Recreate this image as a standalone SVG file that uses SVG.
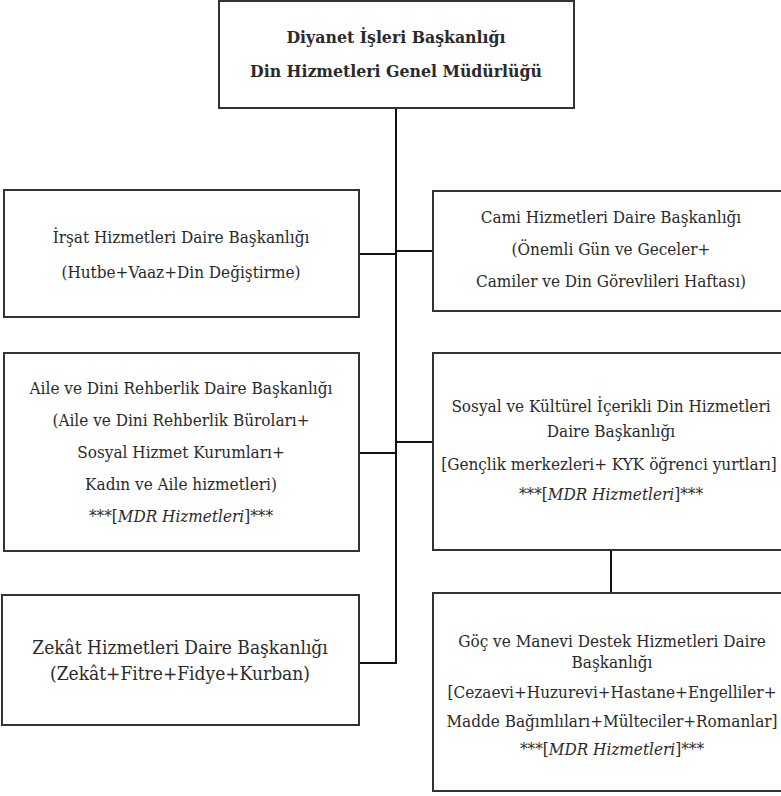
<svg xmlns="http://www.w3.org/2000/svg" width="781" height="796" viewBox="0 0 781 796">
<style>
.box{fill:#fff;stroke:#333;stroke-width:2}
.t{fill:#2a2a2a;text-anchor:middle;font-family:'DejaVu Serif Condensed','DejaVu Serif',serif;font-stretch:condensed}
.b{font-weight:bold;font-size:17.5px}
.s18{font-size:17px}
.s20{font-size:19px}
.conn{stroke:#111;stroke-width:2;fill:none}
.i{font-style:italic}
</style>
<rect width="781" height="796" fill="#fff"/>
<g id="connectors">
<path class="conn" d="M396,108 V663 H359"/>
<path class="conn" d="M359,254 H396"/>
<path class="conn" d="M396,251 H433"/>
<path class="conn" d="M359,453 H396"/>
<path class="conn" d="M396,442 H433"/>
<path class="conn" d="M611,550 V593"/>
</g>
<g id="n-root">
<rect class="box" x="219" y="1" width="355" height="107"/>
<text class="t b" x="396" y="43">Diyanet İşleri Başkanlığı</text>
<text class="t b" x="396" y="77">Din Hizmetleri Genel Müdürlüğü</text>
</g>
<g id="n-irsat">
<rect class="box" x="4" y="190" width="355" height="127"/>
<text class="t s18" x="181" y="243">İrşat Hizmetleri Daire Başkanlığı</text>
<text class="t s18" x="181" y="278">(Hutbe+Vaaz+Din Değiştirme)</text>
</g>
<g id="n-cami">
<rect class="box" x="433" y="191" width="360" height="120"/>
<text class="t s18" x="611" y="223">Cami Hizmetleri Daire Başkanlığı</text>
<text class="t s18" x="611" y="255">(Önemli Gün ve Geceler+</text>
<text class="t s18" x="611" y="287">Camiler ve Din Görevlileri Haftası)</text>
</g>
<g id="n-aile">
<rect class="box" x="4" y="353" width="355" height="198"/>
<text class="t s18" x="181" y="394">Aile ve Dini Rehberlik Daire Başkanlığı</text>
<text class="t s18" x="181" y="426">(Aile ve Dini Rehberlik Büroları+</text>
<text class="t s18" x="181" y="458">Sosyal Hizmet Kurumları+</text>
<text class="t s18" x="181" y="490">Kadın ve Aile hizmetleri)</text>
<text class="t s18" x="181" y="522">***[<tspan class="i">MDR Hizmetleri</tspan>]***</text>
</g>
<g id="n-sosyal">
<rect class="box" x="433" y="353" width="360" height="197"/>
<text class="t s18" x="611" y="412">Sosyal ve Kültürel İçerikli Din Hizmetleri</text>
<text class="t s18" x="611" y="437">Daire Başkanlığı</text>
<text class="t s18" x="609" y="470">[Gençlik merkezleri+ KYK öğrenci yurtları]</text>
<text class="t s18" x="611" y="500">***[<tspan class="i">MDR Hizmetleri</tspan>]***</text>
</g>
<g id="n-zekat">
<rect class="box" x="2" y="595" width="357" height="130"/>
<text class="t s20" x="180" y="654">Zekât Hizmetleri Daire Başkanlığı</text>
<text class="t s20" x="180" y="680">(Zekât+Fitre+Fidye+Kurban)</text>
</g>
<g id="n-goc">
<rect class="box" x="433" y="593" width="360" height="198"/>
<text class="t s18" x="612" y="647">Göç ve Manevi Destek Hizmetleri Daire</text>
<text class="t s18" x="612" y="668">Başkanlığı</text>
<text class="t s18" x="612" y="698">[Cezaevi+Huzurevi+Hastane+Engelliler+</text>
<text class="t s18" x="612" y="727">Madde Bağımlıları+Mülteciler+Romanlar]</text>
<text class="t s18" x="612" y="755">***[<tspan class="i">MDR Hizmetleri</tspan>]***</text>
</g>
</svg>
